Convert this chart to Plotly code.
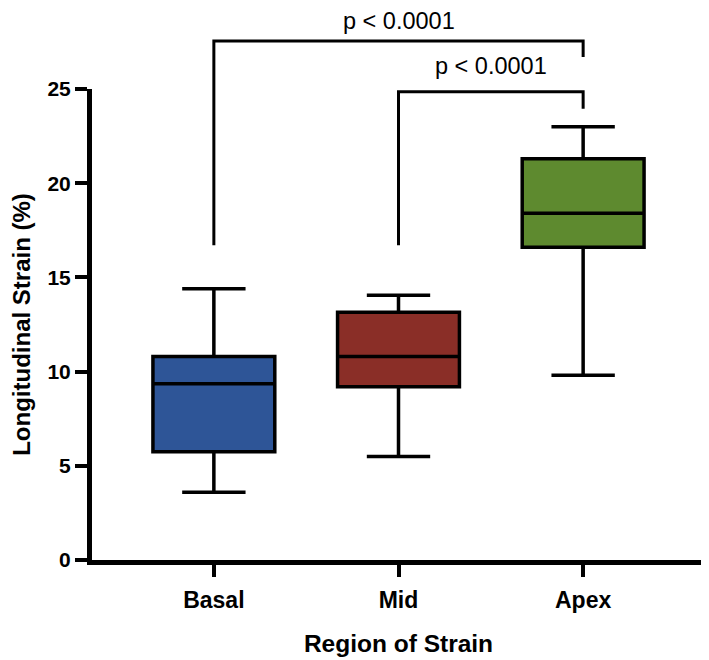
import plotly.graph_objects as go

# Box plot statistics per region
categories = ["Basal", "Mid", "Apex"]
lower_whisker = [3.6, 5.5, 9.8]
q1_values = [5.75, 9.2, 16.6]
medians = [9.35, 10.8, 18.4]
q3_values = [10.8, 13.15, 21.3]
upper_whisker = [14.4, 14.05, 23.0]
box_colors = ["#2E5597", "#8A2E27", "#5E8A2F"]

y_ticks = [0, 5, 10, 15, 20, 25]

# Significance brackets
comparisons = [("Basal", "Apex"), ("Mid", "Apex")]
bracket_heights = [27.55, 24.85]
bracket_right_ends = [26.7, 23.95]
bracket_left_ends = [16.7, 16.7]
p_labels = ["p < 0.0001", "p < 0.0001"]
label_heights = [28.6, 26.2]

X_RANGE = [-0.66, 2.66]
Y_RANGE = [0, 25]
FONT = "Arial, Liberation Sans, sans-serif"


def to_px(cat):
    return (categories.index(cat) - X_RANGE[0]) / (X_RANGE[1] - X_RANGE[0])


def to_py(v):
    return (v - Y_RANGE[0]) / (Y_RANGE[1] - Y_RANGE[0])


fig = go.Figure()

for i, cat in enumerate(categories):
    fig.add_trace(go.Box(
        x=[cat],
        q1=[q1_values[i]],
        median=[medians[i]],
        q3=[q3_values[i]],
        lowerfence=[lower_whisker[i]],
        upperfence=[upper_whisker[i]],
        name=cat,
        width=0.66,
        whiskerwidth=0.52,
        fillcolor=box_colors[i],
        line=dict(color="black", width=3.5),
        boxpoints=False,
        hoverinfo="skip",
        showlegend=False,
    ))

# brackets + p-value labels
for (a, b), yb, yr, yl, lab, yt in zip(comparisons, bracket_heights, bracket_right_ends,
                                        bracket_left_ends, p_labels, label_heights):
    xa, xb = to_px(a), to_px(b)
    fig.add_shape(
        type="path",
        xref="paper", yref="paper",
        path=f"M {xa},{to_py(yl)} L {xa},{to_py(yb)} L {xb},{to_py(yb)} L {xb},{to_py(yr)}",
        line=dict(color="black", width=3),
    )
    fig.add_annotation(
        x=(xa + xb) / 2, y=to_py(yt), xref="paper", yref="paper",
        text=lab, showarrow=False, xanchor="center", yanchor="middle",
        font=dict(family=FONT, size=23.5, color="black"),
    )

# page body has an 8px margin, so margins are shifted to compensate
fig.update_layout(
    width=709, height=660,
    margin=dict(l=84, r=12, t=81, b=108),
    plot_bgcolor="white", paper_bgcolor="white",
    boxmode="overlay",
    font=dict(family=FONT, color="black"),
)

fig.update_xaxes(
    type="category",
    range=X_RANGE,
    automargin=False,
    showline=True, linewidth=5, linecolor="black",
    ticks="outside", ticklen=12, tickwidth=4, tickcolor="black",
    ticklabelstandoff=3,
    tickfont=dict(family=FONT, size=23, color="black", weight="bold"),
    showgrid=False, zeroline=False,
    title=dict(text="Region of Strain", standoff=25,
               font=dict(family=FONT, size=24.5, color="black", weight="bold")),
)

fig.update_yaxes(
    range=Y_RANGE,
    tickvals=y_ticks,
    automargin=False,
    showline=True, linewidth=5, linecolor="black",
    ticks="outside", ticklen=12, tickwidth=4, tickcolor="black",
    tickfont=dict(family=FONT, size=21, color="black", weight="bold"),
    showgrid=False, zeroline=False,
    title=dict(text="Longitudinal Strain (%)", standoff=16,
               font=dict(family=FONT, size=24, color="black", weight="bold")),
)

fig.write_html("out.html")
